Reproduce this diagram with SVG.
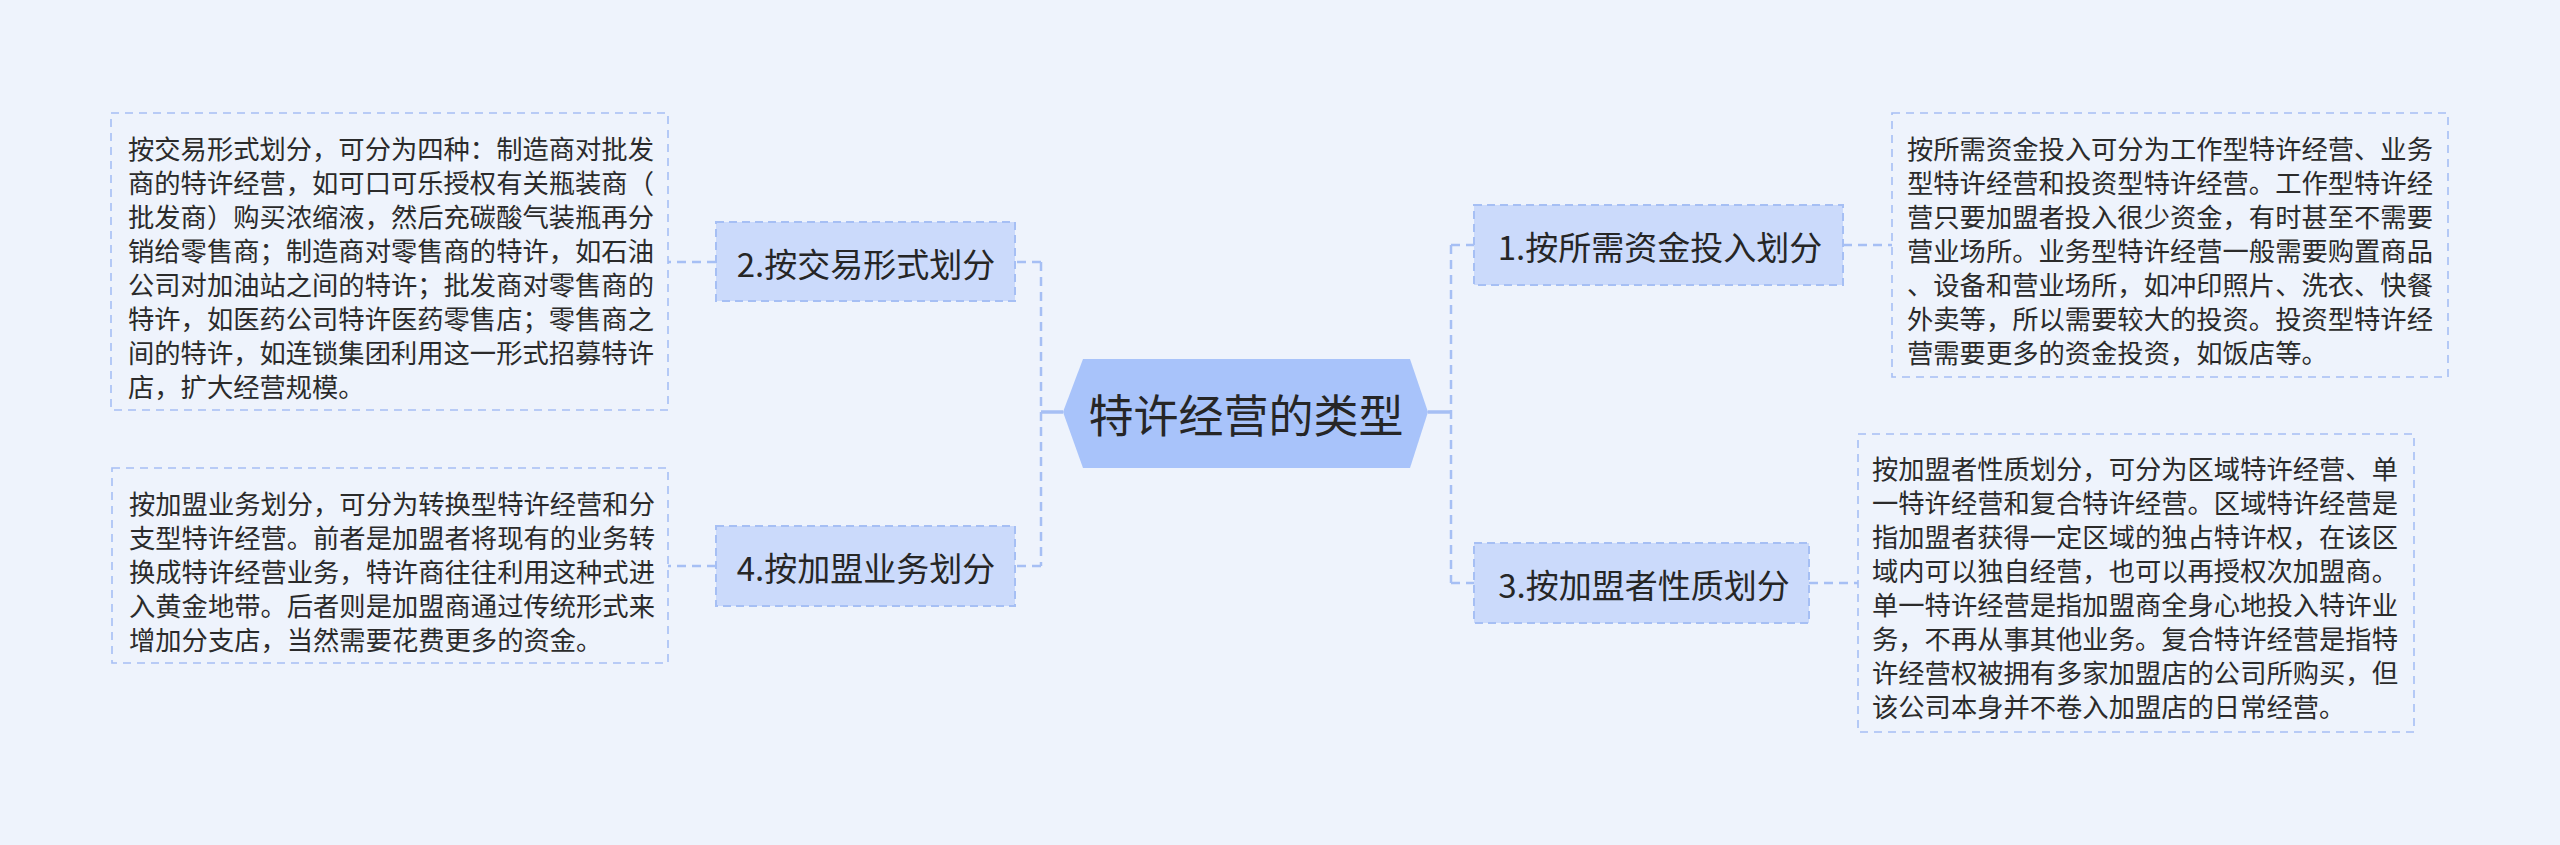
<svg xmlns="http://www.w3.org/2000/svg" width="2560" height="845" viewBox="0 0 2560 845">
<style>
.bg{fill:#eef3fc}
.node rect{fill:#cbdafb;stroke:#a6bff4;stroke-width:2;stroke-dasharray:8 5}
.desc rect{fill:#eef3fc;stroke:#a6bff4;stroke-width:1.6;stroke-dasharray:8 6}
.lbl{font-family:"Noto Sans CJK SC","Noto Sans",sans-serif;font-size:33px;fill:#262626;text-anchor:middle;dominant-baseline:central}
.ttl{font-family:"Noto Sans CJK SC","Noto Sans",sans-serif;font-size:45px;fill:#262626;text-anchor:middle;dominant-baseline:central}
.txt{font-family:"Noto Sans CJK SC","Noto Sans",sans-serif;font-size:26.3px;fill:#2b2b2b;dominant-baseline:central}
.dash{fill:none;stroke:#a6bff4;stroke-width:2.5;stroke-dasharray:9 6}
.solid{fill:none;stroke:#a6bff4;stroke-width:3.5}
</style>
<rect class="bg" x="0" y="0" width="2560" height="845"/>
<g id="connectors">
<path class="solid" d="M1063 412 H1041"/>
<path class="dash" d="M1041 262 V566 M1041 262 H1015 M1041 566 H1015"/>
<path class="dash" d="M716 262 H668 M716 566 H668"/>
<path class="solid" d="M1428 412 H1451"/>
<path class="dash" d="M1451 245 V583 M1451 245 H1474 M1451 583 H1474"/>
<path class="dash" d="M1843 245 H1892 M1809 583 H1858"/>
</g>
<g id="center">
<polygon points="1063,412 1083,359 1410,359 1428,412 1410,468 1083,468" fill="#a8c3fa"/>
<text class="ttl" x="1246" y="413">特许经营的类型</text>
</g>
<g id="n1" class="node">
<rect x="1474" y="205" width="369" height="80"/>
<text class="lbl" x="1660" y="246">1.按所需资金投入划分</text>
</g>
<g id="n2" class="node">
<rect x="716" y="222" width="299" height="79"/>
<text class="lbl" x="866" y="263">2.按交易形式划分</text>
</g>
<g id="n3" class="node">
<rect x="1474" y="543" width="335" height="80"/>
<text class="lbl" x="1644" y="584">3.按加盟者性质划分</text>
</g>
<g id="n4" class="node">
<rect x="716" y="526" width="299" height="80"/>
<text class="lbl" x="866" y="567">4.按加盟业务划分</text>
</g>
<g id="d1" class="desc">
<rect x="1892" y="113" width="556" height="264"/>
<text class="txt" x="1907" y="147">按所需资金投入可分为工作型特许经营、业务</text>
<text class="txt" x="1907" y="181">型特许经营和投资型特许经营。工作型特许经</text>
<text class="txt" x="1907" y="215">营只要加盟者投入很少资金，有时甚至不需要</text>
<text class="txt" x="1907" y="249">营业场所。业务型特许经营一般需要购置商品</text>
<text class="txt" x="1907" y="283">、设备和营业场所，如冲印照片、洗衣、快餐</text>
<text class="txt" x="1907" y="317">外卖等，所以需要较大的投资。投资型特许经</text>
<text class="txt" x="1907" y="351">营需要更多的资金投资，如饭店等。</text>
</g>
<g id="d2" class="desc">
<rect x="111" y="113" width="557" height="297"/>
<text class="txt" x="128" y="147">按交易形式划分，可分为四种：制造商对批发</text>
<text class="txt" x="128" y="181">商的特许经营，如可口可乐授权有关瓶装商（</text>
<text class="txt" x="128" y="215">批发商）购买浓缩液，然后充碳酸气装瓶再分</text>
<text class="txt" x="128" y="249">销给零售商；制造商对零售商的特许，如石油</text>
<text class="txt" x="128" y="283">公司对加油站之间的特许；批发商对零售商的</text>
<text class="txt" x="128" y="317">特许，如医药公司特许医药零售店；零售商之</text>
<text class="txt" x="128" y="351">间的特许，如连锁集团利用这一形式招募特许</text>
<text class="txt" x="128" y="385">店，扩大经营规模。</text>
</g>
<g id="d3" class="desc">
<rect x="1858" y="434" width="556" height="298"/>
<text class="txt" x="1872" y="467">按加盟者性质划分，可分为区域特许经营、单</text>
<text class="txt" x="1872" y="501">一特许经营和复合特许经营。区域特许经营是</text>
<text class="txt" x="1872" y="535">指加盟者获得一定区域的独占特许权，在该区</text>
<text class="txt" x="1872" y="569">域内可以独自经营，也可以再授权次加盟商。</text>
<text class="txt" x="1872" y="603">单一特许经营是指加盟商全身心地投入特许业</text>
<text class="txt" x="1872" y="637">务，不再从事其他业务。复合特许经营是指特</text>
<text class="txt" x="1872" y="671">许经营权被拥有多家加盟店的公司所购买，但</text>
<text class="txt" x="1872" y="705">该公司本身并不卷入加盟店的日常经营。</text>
</g>
<g id="d4" class="desc">
<rect x="112" y="468" width="556" height="195"/>
<text class="txt" x="129" y="502">按加盟业务划分，可分为转换型特许经营和分</text>
<text class="txt" x="129" y="536">支型特许经营。前者是加盟者将现有的业务转</text>
<text class="txt" x="129" y="570">换成特许经营业务，特许商往往利用这种式进</text>
<text class="txt" x="129" y="604">入黄金地带。后者则是加盟商通过传统形式来</text>
<text class="txt" x="129" y="638">增加分支店，当然需要花费更多的资金。</text>
</g>
</svg>
